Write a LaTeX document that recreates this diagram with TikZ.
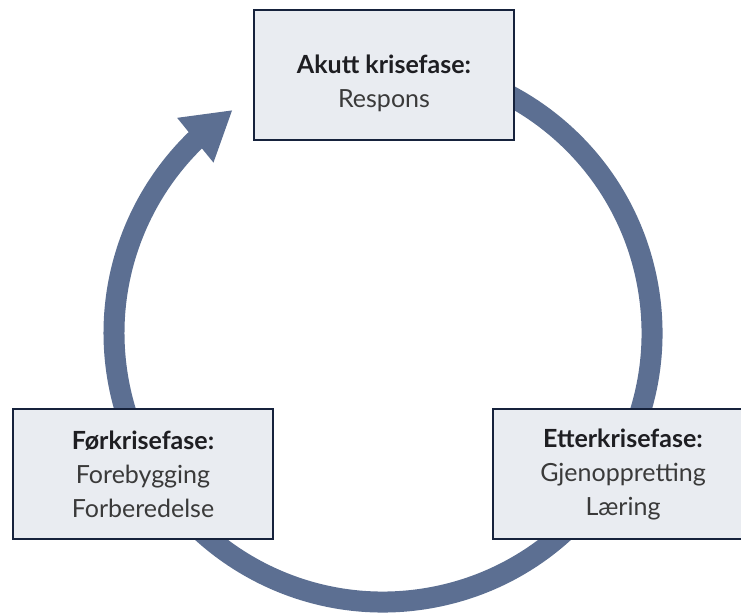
\documentclass[tikz,border=0pt]{standalone}
\usepackage{fontspec}
\setmainfont{Lato}
\usepackage{tikz}
\usetikzlibrary{arrows.meta}
\usetikzlibrary{bending}
\usetikzlibrary{calc}

\definecolor{ringblue}{RGB}{92,111,146}
\definecolor{boxfill}{RGB}{233,236,241}
\definecolor{boxline}{RGB}{22,34,60}
\definecolor{textgray}{RGB}{58,58,58}
\definecolor{titlegray}{RGB}{30,30,34}

\newcommand{\phasetitle}[1]{\textcolor{titlegray}{\textbf{#1}}}

\begin{document}
\begin{tikzpicture}[x=1pt, y=1pt,
    phase/.style={draw=boxline, line width=2pt, fill=boxfill, minimum width=260pt, minimum height=130pt,
        align=center, text=textgray, inner sep=0pt, font=\fontsize{25}{34}\selectfont},
    cycle/.style={draw=ringblue, line width=21pt}]
    \useasboundingbox (0, 0) rectangle (741, 614);
    \coordinate (hub) at (383, 281);
    \draw[cycle, -{Triangle[length=48pt, width=54pt, flex]}] ($(hub)+(100:269)$) arc[start angle=100, end angle=-236, radius=269];
    \node[phase] (akutt) at (384, 539) {\rule{0pt}{36pt}\phasetitle{Akutt krisefase:}\\Respons};
    \node[phase] (forkrise) at (143, 140) {\phasetitle{Førkrisefase:}\\Forebygging\\Forberedelse};
    \node[phase] (etterkrise) at (623, 140) {\phasetitle{Etterkrisefase:}\\Gjenoppretting\\Læring};
\end{tikzpicture}
\end{document}
